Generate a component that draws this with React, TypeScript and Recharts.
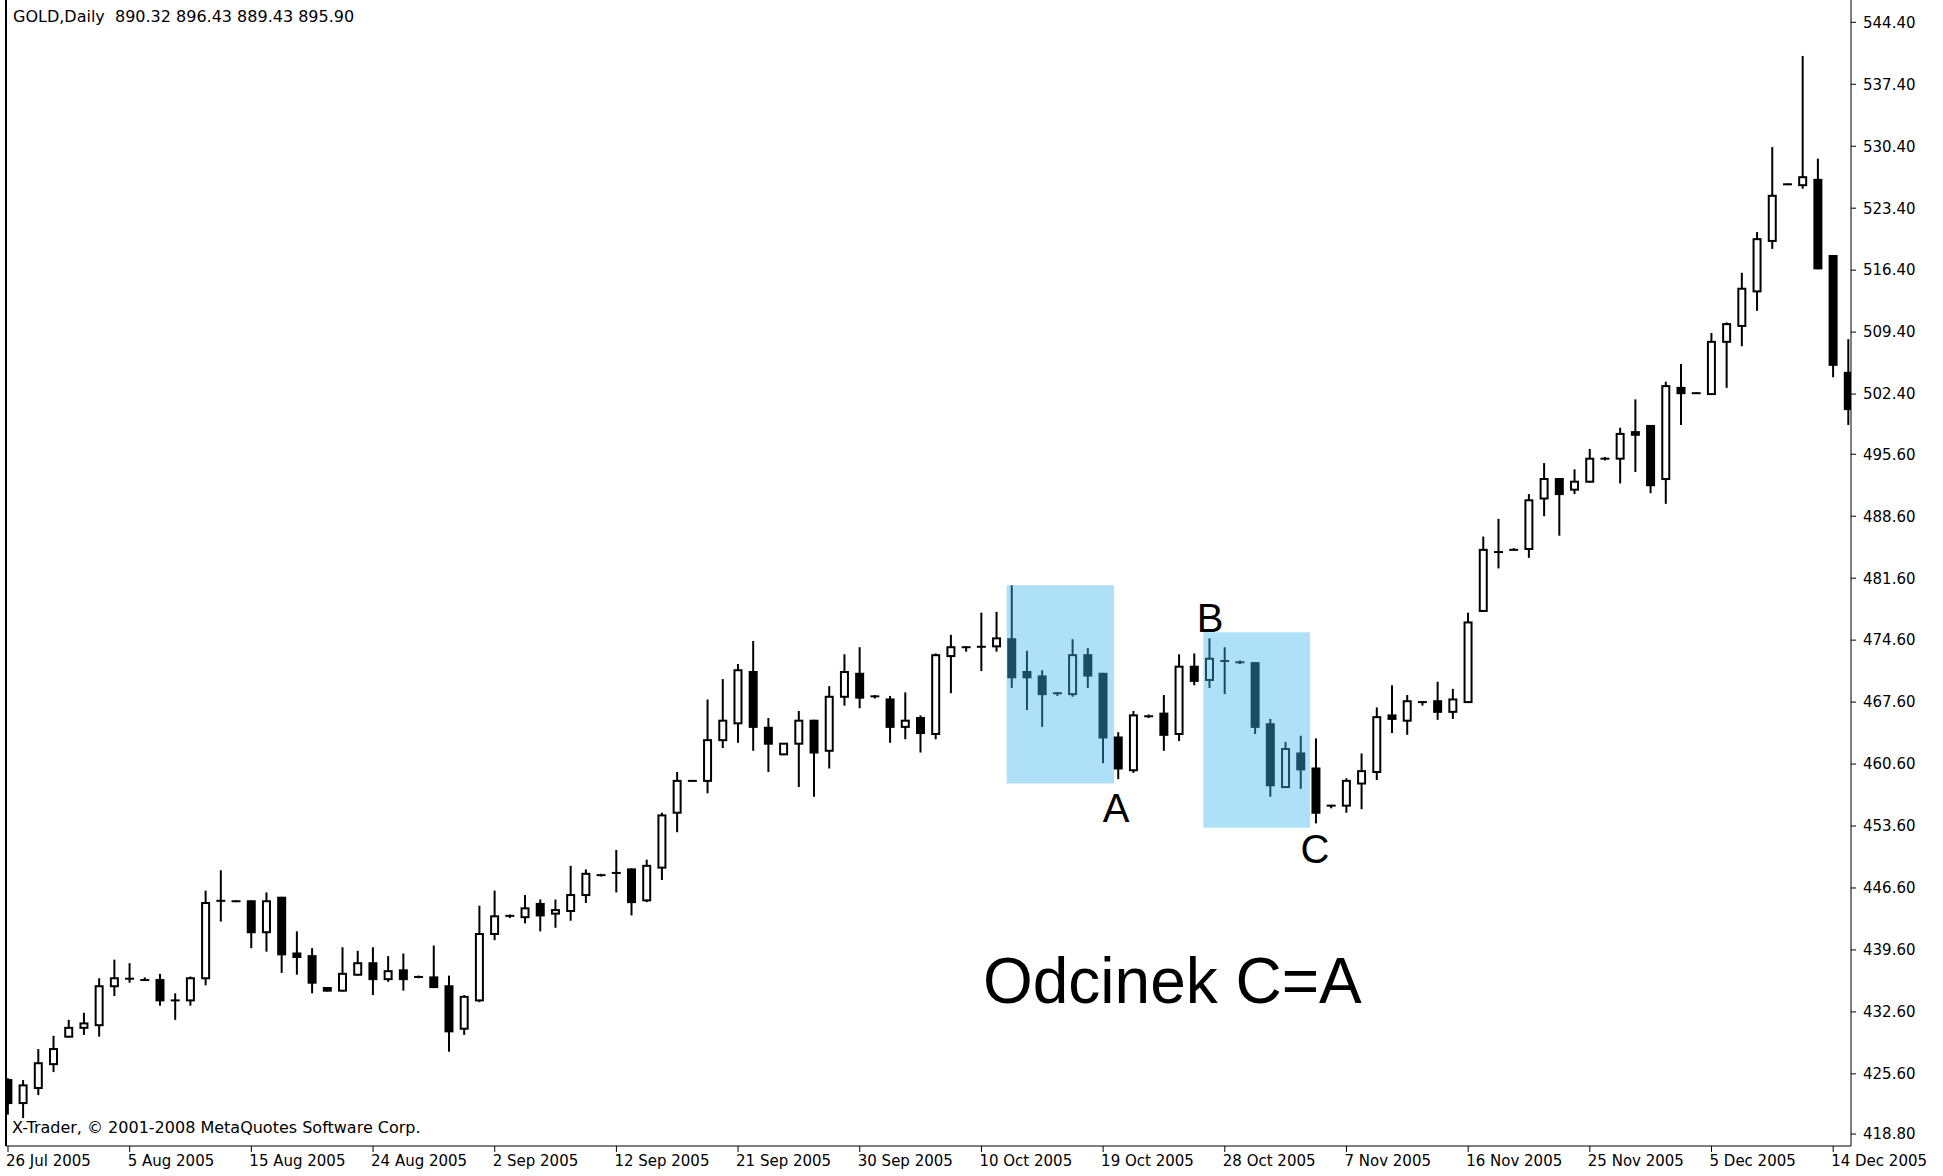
import React from "react"
import {
    Bar,
    ComposedChart,
    ReferenceArea,
    ReferenceDot,
    ReferenceLine,
    XAxis,
    YAxis,
} from "recharts"

// GOLD daily, 26 Jul 2005 - 14 Dec 2005
const opens = [
    424.9, 422.3, 424.0, 426.7, 429.8, 430.8, 431.1, 435.5, 436.3, 436.2,
    436.2, 434.0, 433.9, 436.4, 445.1, 445.1, 445.1, 441.6, 445.5, 439.2,
    438.9, 435.3, 435.0, 436.8, 438.1, 436.3, 437.3, 436.6, 436.5, 435.5,
    430.7, 433.9, 441.4, 443.4, 443.3, 444.8, 443.7, 444.0, 445.8, 448.0,
    448.4, 448.7, 445.2, 448.9, 455.1, 458.7, 458.7, 463.3, 465.2, 471.0,
    464.7, 461.7, 462.9, 465.5, 462.1, 468.2, 470.8, 468.3, 467.9, 464.8,
    465.8, 464.0, 472.8, 473.8, 473.8, 473.9, 474.7, 471.0, 470.5, 468.6,
    468.5, 472.9, 470.8, 463.6, 459.9, 466.1, 466.3, 464.0, 471.6, 470.1,
    472.3, 472.1, 472.0, 465.1, 458.0, 461.8, 460.1, 455.9, 455.9, 458.4,
    459.7, 466.1, 465.5, 467.6, 467.7, 466.5, 467.6, 477.9, 484.6, 484.8,
    484.9, 490.6, 492.8, 491.6, 492.5, 495.1, 495.1, 498.1, 498.8, 492.8,
    503.1, 502.5, 502.4, 508.3, 510.1, 514.0, 519.7, 526.1, 526.0, 526.6,
    518.0, 504.8,
]
const highs = [
    425.1, 424.9, 428.4, 429.9, 431.7, 432.5, 436.4, 438.5, 438.1, 436.5,
    436.9, 434.7, 436.6, 446.3, 448.6, 445.2, 445.2, 446.1, 445.6, 441.7,
    439.8, 435.4, 439.9, 439.5, 439.9, 438.9, 439.2, 436.7, 440.1, 436.7,
    434.5, 444.6, 446.3, 443.6, 445.8, 445.3, 445.3, 449.1, 448.7, 448.2,
    450.9, 448.8, 449.8, 455.1, 459.7, 458.8, 467.9, 470.2, 471.9, 474.5,
    465.8, 462.9, 466.6, 465.6, 469.4, 473.0, 473.8, 468.4, 468.3, 468.7,
    466.1, 473.1, 475.2, 473.9, 477.7, 477.8, 480.8, 473.4, 471.2, 468.7,
    474.7, 473.7, 470.9, 464.2, 466.6, 466.2, 468.4, 473.0, 473.1, 474.8,
    473.8, 472.3, 472.1, 465.7, 463.1, 463.8, 463.5, 456.0, 459.0, 461.8,
    467.0, 469.5, 468.4, 467.7, 469.9, 469.1, 477.7, 486.3, 488.3, 485.0,
    491.1, 494.6, 492.9, 493.9, 496.2, 495.3, 498.6, 501.8, 498.9, 503.8,
    505.8, 502.6, 509.3, 510.5, 516.1, 520.7, 530.3, 526.2, 540.6, 529.0,
    518.1, 508.6,
]
const lows = [
    421.0, 420.6, 423.2, 425.8, 429.7, 430.0, 429.8, 434.4, 435.9, 436.1,
    433.3, 431.7, 433.3, 435.6, 442.8, 445.0, 439.8, 439.4, 437.0, 436.8,
    434.7, 434.9, 434.9, 436.7, 434.5, 436.0, 435.0, 436.4, 435.3, 428.1,
    430.0, 433.7, 440.7, 443.2, 442.6, 441.7, 442.1, 442.9, 444.9, 447.9,
    446.1, 443.5, 445.0, 447.5, 452.9, 458.6, 457.3, 462.4, 463.0, 462.1,
    459.7, 461.6, 458.0, 456.9, 460.1, 467.2, 466.9, 468.0, 463.0, 463.4,
    461.9, 463.4, 468.6, 473.3, 471.1, 473.3, 469.2, 466.7, 464.8, 468.3,
    468.2, 469.2, 460.7, 458.9, 459.6, 465.8, 462.1, 463.2, 469.5, 469.2,
    468.5, 471.9, 464.0, 456.9, 457.9, 457.8, 453.9, 455.6, 455.1, 455.5,
    458.8, 464.1, 463.9, 467.2, 465.6, 465.7, 467.5, 477.8, 482.7, 484.7,
    483.9, 488.6, 486.4, 491.1, 492.4, 494.9, 492.3, 493.6, 491.2, 490.0,
    498.9, 502.4, 502.3, 503.1, 507.8, 511.8, 518.8, 526.0, 525.6, 516.5,
    504.3, 498.9,
]
const closes = [
    422.3, 424.3, 426.8, 428.4, 430.8, 431.3, 435.5, 436.4, 436.4, 436.2,
    433.9, 433.8, 436.4, 444.9, 445.2, 445.1, 441.6, 445.1, 439.1, 438.8,
    435.9, 435.0, 436.9, 438.1, 436.3, 437.2, 436.3, 436.5, 435.4, 430.4,
    434.3, 441.4, 443.4, 443.5, 444.3, 443.5, 444.1, 445.8, 448.2, 448.1,
    448.2, 445.0, 449.1, 454.8, 458.7, 458.7, 463.3, 465.5, 471.2, 464.8,
    462.9, 462.9, 465.5, 461.9, 468.2, 471.0, 468.1, 468.2, 464.8, 465.5,
    464.1, 472.9, 473.8, 473.8, 473.9, 474.8, 470.4, 470.4, 468.5, 468.6,
    472.9, 470.6, 463.6, 460.1, 466.1, 465.9, 463.9, 471.6, 470.0, 472.5,
    472.2, 472.1, 464.8, 458.2, 462.3, 460.0, 455.1, 455.9, 458.7, 459.8,
    465.9, 465.7, 467.7, 467.6, 466.5, 467.9, 476.6, 484.8, 484.5, 484.8,
    490.4, 492.8, 491.1, 492.5, 495.1, 495.1, 497.9, 497.8, 492.1, 503.3,
    502.5, 502.5, 508.3, 510.3, 514.3, 519.9, 524.8, 526.1, 526.9, 516.6,
    505.7, 500.7,
]

// one date label every 8 bars
const dateLabels = [
    "26 Jul 2005", "5 Aug 2005", "15 Aug 2005", "24 Aug 2005", "2 Sep 2005",
    "12 Sep 2005", "21 Sep 2005", "30 Sep 2005", "10 Oct 2005", "19 Oct 2005",
    "28 Oct 2005", "7 Nov 2005", "16 Nov 2005", "25 Nov 2005", "5 Dec 2005",
    "14 Dec 2005",
]
const priceTicks = [
    544.4, 537.4, 530.4, 523.4, 516.4, 509.4, 502.4, 495.6, 488.6, 481.6,
    474.6, 467.6, 460.6, 453.6, 446.6, 439.6, 432.6, 425.6, 418.8,
]

const X_MIN = -0.131
const X_MAX = 121.17
const Y_MIN = 417.45
const Y_MAX = 546.92

const data = opens.map((o, i) => ({
    i,
    open: o,
    high: highs[i],
    low: lows[i],
    close: closes[i],
    range: [lows[i], highs[i]],
}))
const dateTicks = dateLabels.map((_, k) => k * 8)

const Candle = (props: any) => {
    const { x, y, width, height, payload } = props
    if (!payload) return null
    const { open, close, high, low } = payload
    const top = Math.min(y, y + height)
    const h = Math.abs(height)
    const ppu = high > low ? h / (high - low) : 0
    const cx = x + width / 2
    const yO = top + (high - open) * ppu
    const yC = top + (high - close) * ppu
    const bTop = Math.min(yO, yC)
    const bBot = Math.max(yO, yC)
    const bh = bBot - bTop
    let body
    if (bh < 2) {
        const my = (bTop + bBot) / 2
        body = <line x1={x} x2={x + width} y1={my} y2={my} stroke="#000" strokeWidth={2} />
    } else if (close >= open) {
        body = <rect x={x + 1} y={bTop} width={width - 2} height={bh} fill="#fff" stroke="#000" strokeWidth={2} />
    } else {
        body = <rect x={x} y={bTop - 1} width={width} height={bh + 2} fill="#000" />
    }
    return (
        <g>
            <line x1={cx} x2={cx} y1={top} y2={top + h} stroke="#000" strokeWidth={2} />
            {body}
        </g>
    )
}

const DateTick = (props: any) => {
    const { x, y, payload } = props
    const label = dateLabels[Math.round(payload.value / 8)]
    return (
        <text x={x - 2} y={y + 12} textAnchor="start" fontSize={15} fontFamily="DejaVu Sans" fill="#000">
            {label}
        </text>
    )
}

const Letter = (text: string, size: number, anchor: string) => (p: any) => (
    <text
        x={p.cx}
        y={p.cy}
        textAnchor={anchor}
        fontSize={size}
        fontFamily="Liberation Sans, Arial, sans-serif"
        fill="#000"
    >
        {text}
    </text>
)

export default function App() {
    return (
        <div style={{ position: "absolute", left: 0, top: 0, width: 1943, height: 1176, background: "#fff" }}>
            <ComposedChart
                width={1943}
                height={1176}
                data={data}
                margin={{ top: 0, right: 0, bottom: 0, left: 6 }}
            >
                <XAxis
                    dataKey="i"
                    type="number"
                    domain={[X_MIN, X_MAX]}
                    allowDataOverflow
                    ticks={dateTicks}
                    interval={0}
                    tick={<DateTick />}
                    tickSize={6}
                    height={30}
                    stroke="#000"
                />
                <YAxis
                    orientation="right"
                    domain={[Y_MIN, Y_MAX]}
                    allowDataOverflow
                    ticks={priceTicks}
                    interval={0}
                    width={92}
                    tickSize={5}
                    tickMargin={7}
                    tick={{ fontSize: 15, fill: "#000", fontFamily: "DejaVu Sans" }}
                    tickFormatter={(v: number) => v.toFixed(2)}
                    stroke="#000"
                />
                <ReferenceLine x={X_MIN} stroke="#000" strokeWidth={2} />
                <Bar dataKey="range" barSize={9} shape={<Candle />} isAnimationActive={false} />
                <ReferenceArea
                    x1={65.66} x2={72.72} y1={458.4} y2={480.8}
                    fill="#3fb8ee" fillOpacity={0.42} stroke="none"
                    {...({ zIndex: 700 } as any)}
                />
                <ReferenceArea
                    x1={78.59} x2={85.6} y1={453.4} y2={475.5}
                    fill="#3fb8ee" fillOpacity={0.42} stroke="none"
                    {...({ zIndex: 700 } as any)}
                />
                <ReferenceDot x={72.85} y={454.05} r={0} shape={Letter("A", 40, "middle")} />
                <ReferenceDot x={79.03} y={475.52} r={0} shape={Letter("B", 40, "middle")} />
                <ReferenceDot x={85.93} y={449.42} r={0} shape={Letter("C", 40, "middle")} />
                <ReferenceDot x={64.1} y={433.6} r={0} shape={Letter("Odcinek C=A", 64, "start")} />
            </ComposedChart>
            <div
                style={{
                    position: "absolute", left: 13, top: 9, fontFamily: "DejaVu Sans",
                    fontSize: 16, lineHeight: "16px", whiteSpace: "pre", color: "#000",
                }}
            >
                {"GOLD,Daily  890.32 896.43 889.43 895.90"}
            </div>
            <div
                style={{
                    position: "absolute", left: 12, top: 1120, fontFamily: "DejaVu Sans",
                    fontSize: 16, lineHeight: "16px", whiteSpace: "pre", color: "#000",
                }}
            >
                {"X-Trader, © 2001-2008 MetaQuotes Software Corp."}
            </div>
        </div>
    )
}
